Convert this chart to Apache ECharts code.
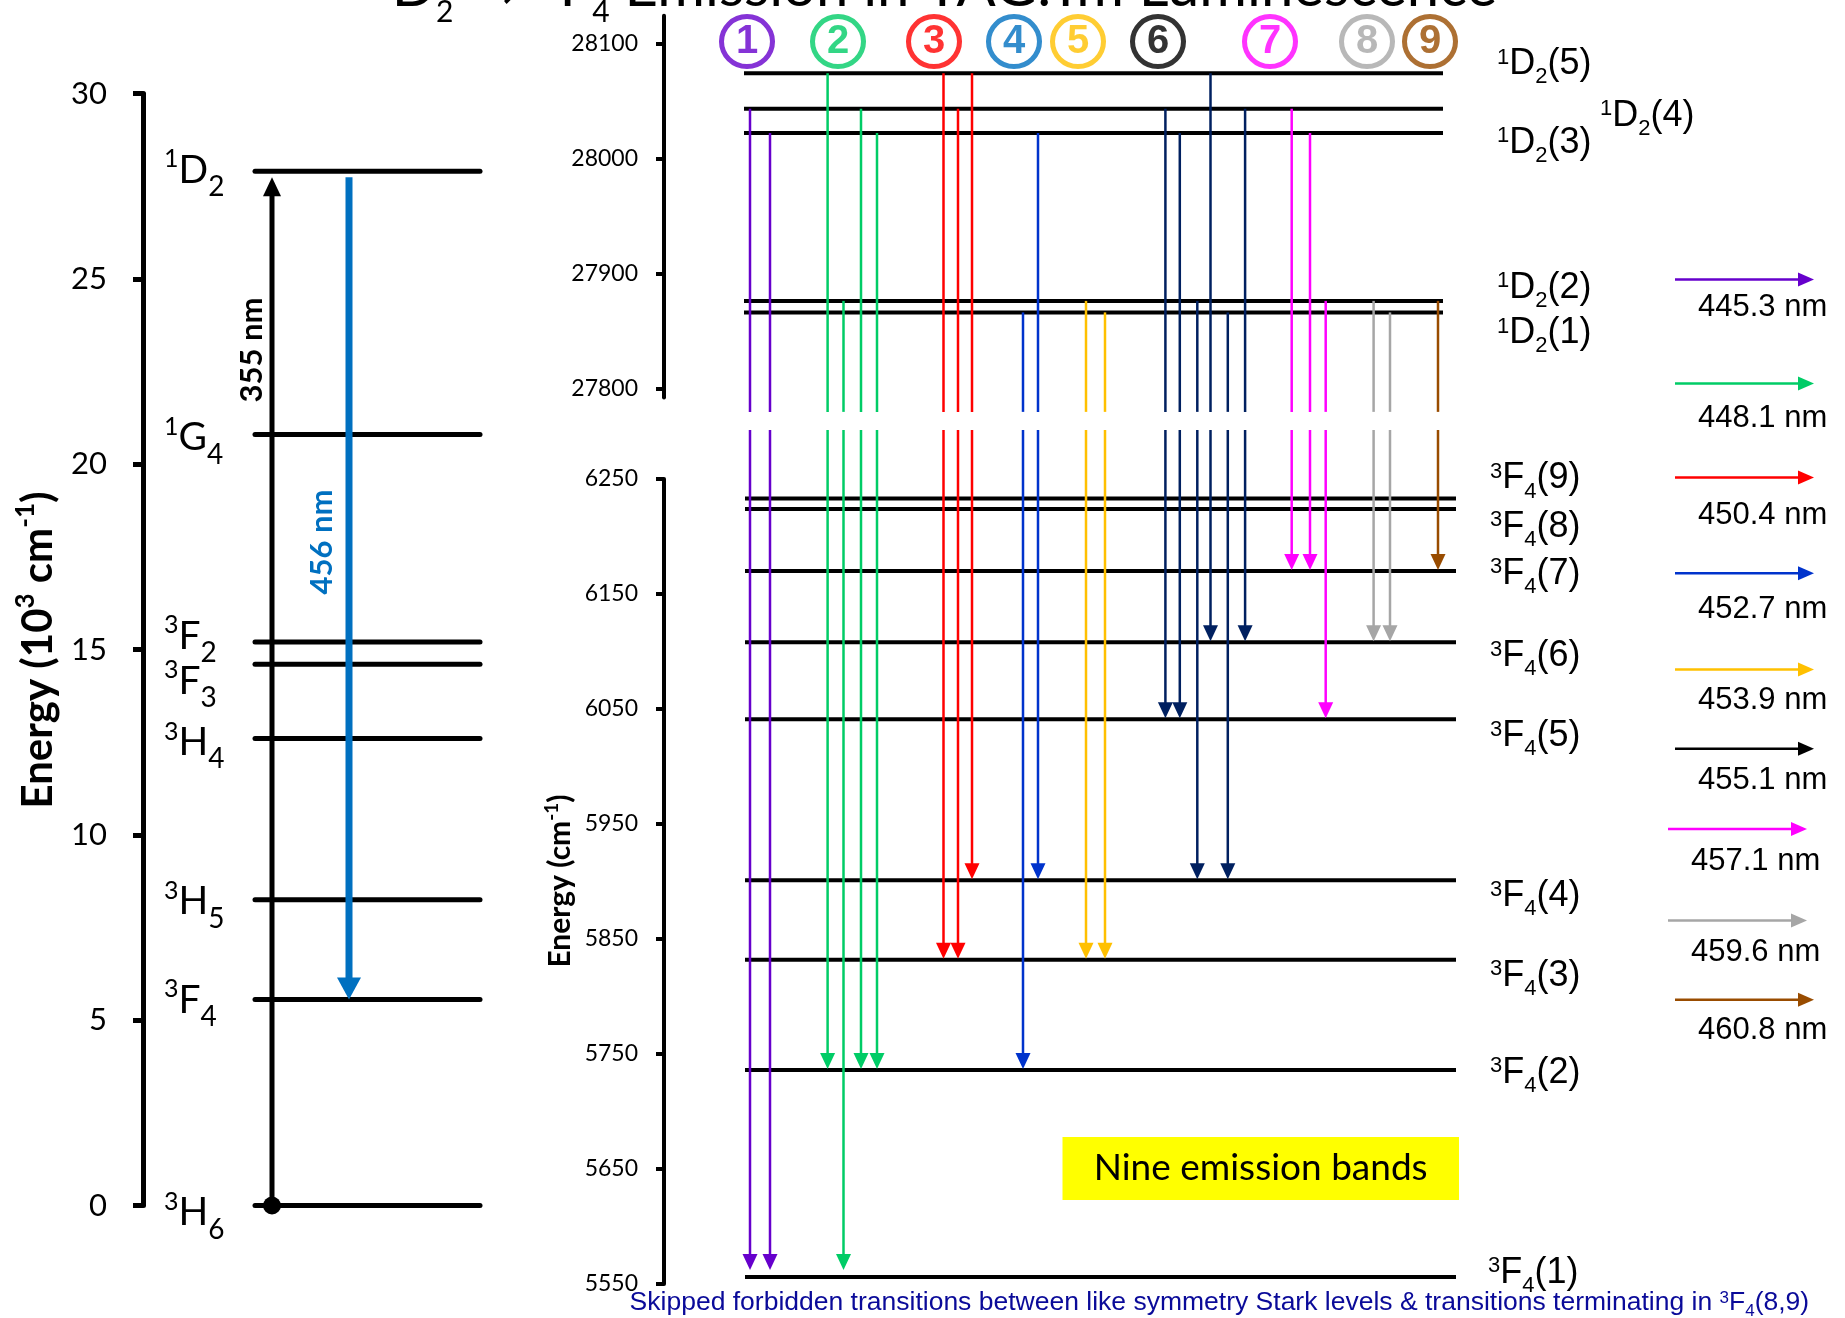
<!DOCTYPE html>
<html>
<head>
<meta charset="utf-8">
<script src="https://cdn.jsdelivr.net/npm/echarts@6.0.0/dist/echarts.min.js"></script>
<style>
html,body{margin:0;padding:0;background:#ffffff;}
#chart{width:1845px;height:1318px;}
</style>
</head>
<body>
<div id="chart"></div>
<script>
// ================= DATA =================
// Overview energy-level diagram (10^3 cm^-1)
const termSpin    = ['1', '1', '3', '3', '3', '3', '3', '3'];
const termLetter  = ['D', 'G', 'F', 'F', 'H', 'H', 'F', 'H'];
const termJ       = ['2', '4', '2', '3', '4', '5', '4', '6'];
const termEnergy  = [27.9, 20.8, 15.2, 14.6, 12.6, 8.25, 5.56, 0];
const overviewTicks = [0, 5, 10, 15, 20, 25, 30];
const pumpFromTerm = 7, pumpToTerm = 0;          // 3H6 -> 1D2
const emisFromTerm = 0, emisToTerm = 6;          // 1D2 -> 3F4
const pumpLabel = '355 nm';
const emisLabel = '456 nm';

// Stark levels (cm^-1)
const d2Stark = [27866, 27876, 28022, 28043, 28074];                    // 1D2(1..5)
const f4Stark = [5556, 5736, 5832, 5901, 6041, 6108, 6170, 6224, 6233];  // 3F4(1..9)
const upperTicks = [27800, 27900, 28000, 28100];
const lowerTicks = [5550, 5650, 5750, 5850, 5950, 6050, 6150, 6250];

// Emission bands
const bandNumber     = [1, 2, 3, 4, 5, 6, 7, 8, 9];
const bandWavelength = ['445.3', '448.1', '450.4', '452.7', '453.9', '455.1', '457.1', '459.6', '460.8'];

// Transitions: band, upper 1D2 Stark index, lower 3F4 Stark index
const transBand = [1, 1, 2, 2, 2, 2, 3, 3, 3, 4, 4, 5, 5, 6, 6, 6, 6, 6, 6, 7, 7, 7, 8, 8, 9];
const transFrom = [4, 3, 5, 2, 4, 3, 5, 4, 5, 1, 3, 2, 1, 4, 3, 2, 5, 1, 4, 4, 3, 2, 2, 1, 2];
const transTo   = [1, 1, 2, 1, 2, 2, 3, 3, 4, 2, 4, 3, 3, 5, 5, 4, 6, 4, 6, 7, 7, 5, 6, 6, 7];

const titleText    = ' Emission in YAG:Tm Luminescence';
const boxText      = 'Nine emission bands';
const footnoteText = 'Skipped forbidden transitions between like symmetry Stark levels & transitions terminating in ';

// ================= LAYOUT / STYLE =================
const FC = 'Lato, "Open Sans", sans-serif';
const FA = '"Liberation Sans", Arial, sans-serif';
const arrowColor  = ['#6600CC', '#00CC66', '#FF0000', '#0033CC', '#FFC000', '#002060', '#FF00FF', '#A6A6A6', '#994C00'];
const circleColor = ['#6600CC', '#00CC66', '#FF0000', '#0070C0', '#FFC000', '#000000', '#FF00FF', '#A6A6A6', '#994C00'];
const legendColor = ['#6600CC', '#00CC66', '#FF0000', '#0033CC', '#FFC000', '#000000', '#FF00FF', '#A6A6A6', '#994C00'];

// horizontal slots of the transition arrows (layout, px from right axis)
const transSlotX = [86, 106, 163.6, 179.5, 197, 213, 279.5, 294, 308, 359, 374, 422, 441,
                    501.4, 515.8, 533.3, 546.5, 563.8, 581.1, 627.7, 646, 661.7, 709.6, 726, 774];
const bandCircleX = [83, 174, 270, 350, 414, 494, 606, 703, 766];
const circleRowValue = 28101.5;
const upperBreak = 27779.5, lowerBreak = 6292.6;

const leftLabelDy  = [-1, 3, -6, 17, 4, 2, 1, 7];
const d2LabelX  = [833, 833, 833, 936, 833];
const d2LabelDy = [21, -13, 10, 7, -9];
const f4LabelX  = [824, 826, 826, 826, 826, 826, 826, 826, 826];
const f4LabelDy = [-4, 3, 16, 16, 17, 14, 3, 18, -20];

const legendArrowY = [279.6, 383.5, 477.6, 573.3, 669.6, 748.8, 829, 920.5, 999.7];
const legendLabelY = [307, 418, 515, 609.5, 700.6, 780, 861, 952.6, 1030.6];
const legendX0     = [1675, 1675, 1675, 1675, 1675, 1675, 1668, 1668, 1675];
const legendLabelX = [1698, 1698, 1698, 1698, 1698, 1698, 1691, 1691, 1698];

// ================= HELPERS =================
function vArrow(x, y1, y2, color, lw, headW, headL) {
  const dir = y2 > y1 ? 1 : -1;
  return {
    type: 'group',
    children: [
      { type: 'line', shape: { x1: x, y1: y1, x2: x, y2: y2 - dir * headL * 0.7 },
        style: { stroke: color, lineWidth: lw } },
      { type: 'polygon', shape: { points: [[x - headW / 2, y2 - dir * headL], [x + headW / 2, y2 - dir * headL], [x, y2]] },
        style: { fill: color } }
    ]
  };
}
function richTerm(spin, letter, j, tail) {
  return '{s|' + spin + '}{m|' + letter + '}{b|' + j + '}' + (tail ? '{m|' + tail + '}' : '');
}
function richSet(font, main, sup, sub, LH, hs, hb, weight, color) {
  const w = weight || 'normal', c = color || '#000';
  return {
    m: { fontFamily: font, fontSize: main, fontWeight: w, lineHeight: LH, fill: c, color: c },
    s: { fontFamily: font, fontSize: sup, fontWeight: w, height: hs, lineHeight: hs, verticalAlign: 'top', fill: c, color: c },
    b: { fontFamily: font, fontSize: sub, fontWeight: w, height: hb, lineHeight: hb, verticalAlign: 'bottom', fill: c, color: c }
  };
}
const leftRich  = richSet(FC, 39, 25, 28, 60, 38, 26);
const rightRich = richSet(FA, 36, 22, 22, 50, 36.6, 24);
const plain = (v) => String(v);

// ================= CHART =================
const chart = echarts.init(document.getElementById('chart'), null, { renderer: 'canvas', width: 1845, height: 1318 });

const hiddenX = (max) => ({ type: 'value', min: 0, max: max, show: false });

const option = {
  animation: false,
  backgroundColor: '#ffffff',
  grid: [
    { left: 143, top: 93.5, width: 350, height: 1112 },
    { left: 664, top: 15.7, width: 800, height: 381.8 },
    { left: 664, top: 479, width: 800, height: 805 }
  ],
  xAxis: [
    Object.assign(hiddenX(350), { gridIndex: 0 }),
    Object.assign(hiddenX(800), { gridIndex: 1 }),
    Object.assign(hiddenX(800), { gridIndex: 2 })
  ],
  yAxis: [
    {
      gridIndex: 0, type: 'value', min: 0, max: 30, interval: 5,
      axisLine: { show: true, lineStyle: { color: '#000', width: 5 } },
      axisTick: { show: true, length: 10, lineStyle: { color: '#000', width: 5 } },
      axisLabel: { margin: 36, fontFamily: FC, fontSize: 31, color: '#000', formatter: plain },
      splitLine: { show: false }
    },
    {
      gridIndex: 1, type: 'value', min: 27792, max: 28124,
      axisLine: { show: true, lineStyle: { color: '#000', width: 4 } },
      axisTick: { show: true, length: 8, customValues: upperTicks, lineStyle: { color: '#000', width: 4 } },
      axisLabel: { margin: 26, fontFamily: FC, fontSize: 23, color: '#000', customValues: upperTicks, formatter: plain },
      splitLine: { show: false }
    },
    {
      gridIndex: 2, type: 'value', min: 5550, max: 6250,
      axisLine: { show: true, lineStyle: { color: '#000', width: 4 } },
      axisTick: { show: true, length: 8, customValues: lowerTicks, lineStyle: { color: '#000', width: 4 } },
      axisLabel: { margin: 26, fontFamily: FC, fontSize: 23, color: '#000', customValues: lowerTicks, formatter: plain },
      splitLine: { show: false }
    }
  ],
  series: [
    // ---- overview levels
    {
      type: 'custom', xAxisIndex: 0, yAxisIndex: 0, clip: false,
      data: termEnergy.map((e, i) => [0, e, i]),
      encode: { x: 0, y: 1 },
      renderItem: (params, api) => {
        const e = api.value(1);
        const a = api.coord([112, e]), b = api.coord([337, e]);
        return { type: 'line', shape: { x1: a[0], y1: a[1], x2: b[0], y2: b[1] },
                 style: { stroke: '#000', lineWidth: 5, lineCap: 'round' } };
      }
    },
    // ---- overview level labels
    {
      type: 'custom', xAxisIndex: 0, yAxisIndex: 0, clip: false,
      data: termEnergy.map((e, i) => [0, e, i]),
      encode: { x: 0, y: 1 },
      renderItem: (params, api) => {
        const i = params.dataIndex;
        const p = api.coord([21, api.value(1)]);
        return { type: 'text', x: p[0], y: p[1] + leftLabelDy[i],
                 style: { text: richTerm(termSpin[i], termLetter[i], termJ[i]), rich: leftRich,
                          align: 'left', verticalAlign: 'middle', fill: '#000' } };
      }
    },
    // ---- pump and emission arrows
    {
      type: 'custom', xAxisIndex: 0, yAxisIndex: 0, clip: false,
      data: [
        [129, termEnergy[pumpFromTerm], termEnergy[pumpToTerm], 0],
        [206, termEnergy[emisFromTerm], termEnergy[emisToTerm], 1]
      ],
      encode: { x: 0, y: 1 },
      renderItem: (params, api) => {
        const x = api.value(0), kind = api.value(3);
        const a = api.coord([x, api.value(1)]), b = api.coord([x, api.value(2)]);
        if (kind === 0) {
          const g = vArrow(a[0], a[1], b[1] + 6, '#000', 5, 18, 19);
          g.children.push({ type: 'circle', shape: { cx: a[0], cy: a[1], r: 9 }, style: { fill: '#000' } });
          return g;
        }
        return vArrow(a[0], a[1] + 6, b[1], '#0070C0', 7, 24, 22);
      }
    },
    // ---- pump / emission wavelength labels
    {
      type: 'custom', xAxisIndex: 0, yAxisIndex: 0, clip: false,
      data: [[109, 23.08, 0], [178.5, 17.9, 1]],
      encode: { x: 0, y: 1 },
      renderItem: (params, api) => {
        const i = params.dataIndex;
        const p = api.coord([api.value(0), api.value(1)]);
        return { type: 'text', x: p[0], y: p[1], rotation: Math.PI / 2,
                 style: { text: i === 0 ? pumpLabel : emisLabel, fontFamily: FC, fontWeight: 'bold',
                          fontSize: 31, fill: i === 0 ? '#000' : '#0070C0', align: 'center', verticalAlign: 'middle' } };
      }
    },
    // ---- 1D2 Stark levels
    {
      type: 'custom', xAxisIndex: 1, yAxisIndex: 1, clip: false,
      data: d2Stark.map((e, i) => [0, e, i]),
      encode: { x: 0, y: 1 },
      renderItem: (params, api) => {
        const e = api.value(1);
        const a = api.coord([80, e]), b = api.coord([779, e]);
        return { type: 'line', shape: { x1: a[0], y1: a[1], x2: b[0], y2: b[1] },
                 style: { stroke: '#000', lineWidth: 4 } };
      }
    },
    // ---- 3F4 Stark levels
    {
      type: 'custom', xAxisIndex: 2, yAxisIndex: 2, clip: false,
      data: f4Stark.map((e, i) => [0, e, i]),
      encode: { x: 0, y: 1 },
      renderItem: (params, api) => {
        const e = api.value(1);
        const a = api.coord([81, e]), b = api.coord([792, e]);
        return { type: 'line', shape: { x1: a[0], y1: a[1], x2: b[0], y2: b[1] },
                 style: { stroke: '#000', lineWidth: 4 } };
      }
    },
    // ---- 1D2 labels
    {
      type: 'custom', xAxisIndex: 1, yAxisIndex: 1, clip: false,
      data: d2Stark.map((e, i) => [0, e, i]),
      encode: { x: 0, y: 1 },
      renderItem: (params, api) => {
        const i = params.dataIndex;
        const p = api.coord([d2LabelX[i], api.value(1)]);
        return { type: 'text', x: p[0], y: p[1] + d2LabelDy[i],
                 style: { text: richTerm('1', 'D', '2', '(' + (i + 1) + ')'), rich: rightRich,
                          align: 'left', verticalAlign: 'middle', fill: '#000' } };
      }
    },
    // ---- 3F4 labels
    {
      type: 'custom', xAxisIndex: 2, yAxisIndex: 2, clip: false,
      data: f4Stark.map((e, i) => [0, e, i]),
      encode: { x: 0, y: 1 },
      renderItem: (params, api) => {
        const i = params.dataIndex;
        const p = api.coord([f4LabelX[i], api.value(1)]);
        return { type: 'text', x: p[0], y: p[1] + f4LabelDy[i],
                 style: { text: richTerm('3', 'F', '4', '(' + (i + 1) + ')'), rich: rightRich,
                          align: 'left', verticalAlign: 'middle', fill: '#000' } };
      }
    },
    // ---- transitions: upper part
    {
      type: 'custom', xAxisIndex: 1, yAxisIndex: 1, clip: false,
      data: transBand.map((b, i) => [transSlotX[i], d2Stark[transFrom[i] - 1], upperBreak, b]),
      encode: { x: 0, y: 1 },
      renderItem: (params, api) => {
        const x = api.value(0);
        const a = api.coord([x, api.value(1)]), b = api.coord([x, api.value(2)]);
        return { type: 'line', shape: { x1: a[0], y1: a[1], x2: b[0], y2: b[1] },
                 style: { stroke: arrowColor[api.value(3) - 1], lineWidth: 2.5 } };
      }
    },
    // ---- transitions: lower part with arrowheads
    {
      type: 'custom', xAxisIndex: 2, yAxisIndex: 2, clip: false,
      data: transBand.map((b, i) => [transSlotX[i], lowerBreak, f4Stark[transTo[i] - 1], b]),
      encode: { x: 0, y: 1 },
      renderItem: (params, api) => {
        const x = api.value(0);
        const a = api.coord([x, api.value(1)]), b = api.coord([x, api.value(2)]);
        const tip = api.value(2) === f4Stark[0] ? b[1] - 7 : b[1] - 1;
        return vArrow(a[0], a[1], tip, arrowColor[api.value(3) - 1], 2.5, 15, 16);
      }
    },
    // ---- band number circles
    {
      type: 'scatter', xAxisIndex: 1, yAxisIndex: 1, clip: false,
      symbol: 'circle', symbolSize: [51, 50],
      data: bandNumber.map((n, i) => ({
        value: [bandCircleX[i], circleRowValue],
        itemStyle: { color: '#ffffff', borderColor: circleColor[i], borderWidth: 5 },
        label: { color: circleColor[i] }
      })),
      label: {
        show: true, position: 'inside', fontFamily: FA, fontWeight: 'bold', fontSize: 40,
        formatter: (p) => String(bandNumber[p.dataIndex])
      },
      emphasis: { disabled: true }
    }
  ],
  graphic: []
};

// ---- title (cut off at top, as in reference)
const titleRich = richSet(FC, 58, 32, 30, 84, 52, 34);
option.graphic.push({
  type: 'text', x: 1497, y: -12.4,
  style: { text: richTerm('1', 'D', '2', ' \u2192 ') + richTerm('3', 'F', '4', titleText),
           rich: titleRich, align: 'right', verticalAlign: 'middle', fill: '#000' }
});

// ---- axis titles
option.graphic.push({
  type: 'text', x: 38, y: 650, rotation: Math.PI / 2,
  style: { text: '{m|Energy (10}{s|3}{m| cm}{s|-1}{m|)}',
           rich: richSet(FC, 42, 26, 26, 56, 32, 32, 'bold'),
           align: 'center', verticalAlign: 'middle', fill: '#000' }
});
option.graphic.push({
  type: 'text', x: 560.5, y: 881, rotation: Math.PI / 2,
  style: { text: '{m|Energy (cm}{s|-1}{m|)}',
           rich: richSet(FC, 30, 19, 19, 40, 22, 22, 'bold'),
           align: 'center', verticalAlign: 'middle', fill: '#000' }
});

// ---- wavelength key
bandWavelength.forEach((w, i) => {
  const x0 = legendX0[i], x1 = x0 + 139, y = legendArrowY[i];
  option.graphic.push({
    type: 'group',
    children: [
      { type: 'line', shape: { x1: x0, y1: y, x2: x1 - 10, y2: y }, style: { stroke: legendColor[i], lineWidth: 2.5 } },
      { type: 'polygon', shape: { points: [[x1 - 16, y - 7], [x1 - 16, y + 7], [x1, y]] }, style: { fill: legendColor[i] } },
      { type: 'text', x: legendLabelX[i], y: legendLabelY[i],
        style: { text: w + ' nm', fontFamily: FA, fontSize: 31, fill: '#000', align: 'left', verticalAlign: 'middle' } }
    ]
  });
});

// ---- yellow annotation box
option.graphic.push({
  type: 'group',
  children: [
    { type: 'rect', shape: { x: 1062.5, y: 1137, width: 396.5, height: 63 }, style: { fill: '#FFFF00' } },
    { type: 'text', x: 1260.7, y: 1168.5,
      style: { text: boxText, fontFamily: FC, fontSize: 37, fill: '#000', align: 'center', verticalAlign: 'middle' } }
  ]
});

// ---- footnote
const footRich = richSet(FA, 26.5, 17, 17, 36, 27, 18, 'normal', '#0A0A99');
option.graphic.push({
  type: 'text', x: 629.6, y: 1302.5,
  style: { text: '{m|' + footnoteText + '}' + richTerm('3', 'F', '4', '(8,9)'),
           rich: footRich, align: 'left', verticalAlign: 'middle', fill: '#0A0A99' }
});

chart.setOption(option);
</script>
</body>
</html>
